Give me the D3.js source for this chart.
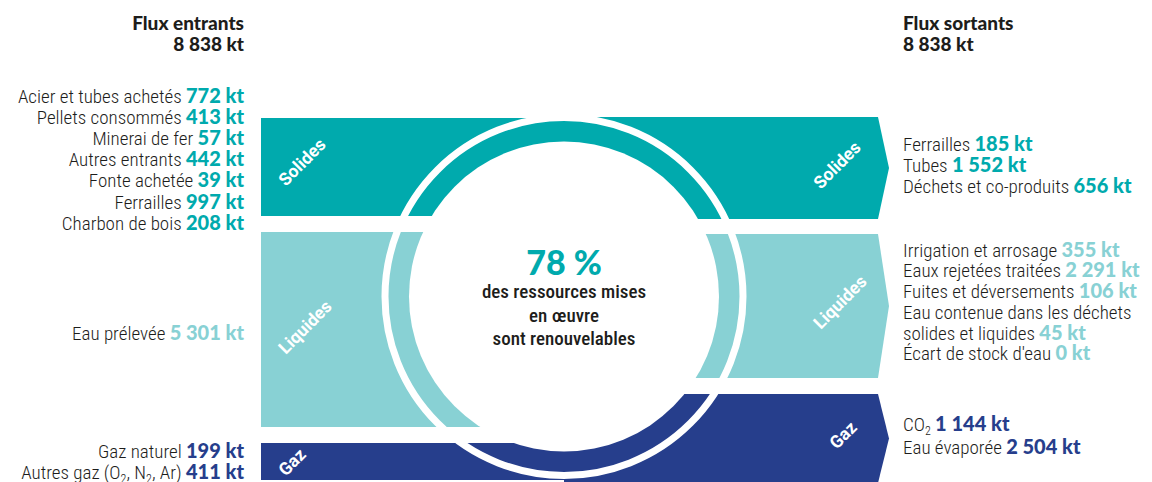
<!DOCTYPE html>
<html lang="fr">
<head>
<meta charset="utf-8">
<script src="https://cdn.jsdelivr.net/npm/d3@7"></script>
<style>
  html, body { margin: 0; padding: 0; background: #fff; }
  svg { display: block; }
  .lbl { font-family: "Liberation Sans Narrow", "Roboto", sans-serif; font-stretch: condensed; font-size: 19px; font-weight: 300; fill: #1d1d1b; }
  .val { font-family: "Lato", "Inter", sans-serif; font-weight: 900; }
  .hdr { font-family: "Lato", "Inter", sans-serif; font-weight: 900; font-size: 19px; fill: #1d1d1b; }
  .band-lbl { font-family: "Liberation Sans Narrow", "Roboto", sans-serif; font-weight: bold; font-size: 17.5px; fill: #fff; }
</style>
</head>
<body>
<svg id="chart" width="1152" height="482"></svg>
<script>
// ---------- DATA ----------
const categories = ["Solides", "Liquides", "Gaz"];
const categoryColors = ["#00aaad", "#88d1d4", "#263e8c"];

const headerTitles = ["Flux entrants", "Flux sortants"];
const headerTotals = [8838, 8838];

const inLabels = ["Acier et tubes achetés", "Pellets consommés", "Minerai de fer", "Autres entrants",
                  "Fonte achetée", "Ferrailles", "Charbon de bois", "Eau prélevée",
                  "Gaz naturel", "Autres gaz (O|2|, N|2|, Ar)"];
const inValues = [772, 413, 57, 442, 39, 997, 208, 5301, 199, 411];
const inCategory = [0, 0, 0, 0, 0, 0, 0, 1, 2, 2];

const outLabels = ["Ferrailles", "Tubes", "Déchets et co-produits",
                   "Irrigation et arrosage", "Eaux rejetées traitées", "Fuites et déversements",
                   "Eau contenue dans les déchets\nsolides et liquides", "Écart de stock d'eau",
                   "CO|2|", "Eau évaporée"];
const outValues = [185, 1552, 656, 355, 2291, 106, 45, 0, 1144, 2504];
const outCategory = [0, 0, 0, 1, 1, 1, 1, 1, 2, 2];

const centerValue = ["78 %"];
const centerText = ["des ressources mises", "en œuvre", "sont renouvelables"];

// ---------- LAYOUT ----------
const W = 1152, H = 482;
const cx = 564, cy = 296.5, rInner = 155, rLine = 179, lineW = 7;
const leftX = 261, rightX = 878, tipX = 889;
const leftBands  = [[118, 216], [232, 427], [443, 480]];
const rightBands = [[117, 219], [234, 378], [394, 483]];
const inRowY  = [96, 117.2, 138.4, 159.6, 180.8, 202, 223.2, 333.3, 451.7, 472.8];
const outRowY = [144, 165, 186, 250, 270.7, 291.7, 312.7, 353.3, 424.3, 447.3];
const leftTextX = 244, rightTextX = 903;
const leftBandLbl  = [[302, 162], [305, 327], [292, 462]];
const rightBandLbl = [[837, 165], [840, 302], [843, 435]];

const fr = d3.formatLocale({ decimal: ",", thousands: "\u00a0", grouping: [3], currency: ["", " €"] });
const fmt = v => fr.format(",d")(v) + "\u00a0kt";

const svg = d3.select("#chart");
const color = d3.scaleOrdinal().domain(d3.range(categories.length)).range(categoryColors);

// ---------- BANDS ----------
const gBands = svg.append("g");
leftBands.forEach((b, i) => {
  const p = d3.path();
  p.moveTo(leftX, b[0]); p.lineTo(cx, b[0]); p.lineTo(cx, b[1]); p.lineTo(leftX, b[1]); p.closePath();
  gBands.append("path").attr("d", p.toString()).attr("fill", color(i));
});
rightBands.forEach((b, i) => {
  const p = d3.path();
  const mid = (b[0] + b[1]) / 2;
  p.moveTo(cx, b[0]); p.lineTo(rightX, b[0]); p.lineTo(tipX, mid); p.lineTo(rightX, b[1]); p.lineTo(cx, b[1]); p.closePath();
  gBands.append("path").attr("d", p.toString()).attr("fill", color(i));
});

// inner white disk and white ring line
svg.append("circle").attr("cx", cx).attr("cy", cy).attr("r", rInner).attr("fill", "#fff");
svg.append("circle").attr("cx", cx).attr("cy", cy).attr("r", rLine)
   .attr("fill", "none").attr("stroke", "#fff").attr("stroke-width", lineW);

// band labels
[leftBandLbl, rightBandLbl].forEach(pos => {
  pos.forEach((p, i) => {
    svg.append("text").attr("class", "band-lbl")
      .attr("transform", `translate(${p[0]},${p[1]}) rotate(-45)`)
      .attr("text-anchor", "middle").attr("dy", "0.35em")
      .text(categories[i]);
  });
});

// ---------- CENTER TEXT ----------
svg.append("text").attr("x", cx).attr("y", 275).attr("text-anchor", "middle")
   .attr("class", "val").attr("font-size", 34).attr("fill", categoryColors[0]).text(centerValue[0]);
centerText.forEach((t, i) => {
  svg.append("text").attr("x", cx).attr("y", 298 + i * 23.5).attr("text-anchor", "middle")
     .attr("class", "lbl").attr("font-size", 20).style("font-weight", 500).text(t);
});

// ---------- HEADERS ----------
[[leftTextX, "end"], [rightTextX, "start"]].forEach((h, i) => {
  svg.append("text").attr("class", "hdr").attr("x", h[0]).attr("y", 30).attr("text-anchor", h[1]).text(headerTitles[i]);
  svg.append("text").attr("class", "hdr").attr("x", h[0]).attr("y", 51).attr("text-anchor", h[1]).text(fmt(headerTotals[i]));
});

// ---------- LABEL ROWS ----------
function addRich(text, str) {
  // "|" toggles subscript; returns pending vertical shift
  const parts = str.split("|");
  let pending = 0;
  parts.forEach((s, k) => {
    if (!s) return;
    const t = text.append("tspan").text(s);
    if (k % 2 === 1) {
      t.attr("font-size", 12).attr("dy", 4 + pending);
      pending = -4;
    } else if (pending) {
      t.attr("dy", pending);
      pending = 0;
    }
  });
  return pending;
}
function row(x, y, anchor, label, value, cat) {
  const lines = label.split("\n");
  lines.forEach((ln, li) => {
    const t = svg.append("text").attr("class", "lbl").attr("x", x)
      .attr("y", y + (li - (lines.length - 1)) * 20.5).attr("dy", "0.35em").attr("text-anchor", anchor);
    const pending = addRich(t, ln);
    if (li === lines.length - 1) {
      const sp = t.append("tspan").text(" ");
      if (pending) sp.attr("dy", pending);
      t.append("tspan").attr("class", "val").attr("font-size", 20).attr("fill", color(cat)).text(fmt(value));
    }
  });
}
inLabels.forEach((l, i) => row(leftTextX, inRowY[i], "end", l, inValues[i], inCategory[i]));
outLabels.forEach((l, i) => {
  const y = outLabels[i].includes("\n") ? outRowY[i] + 20.3 : outRowY[i];
  row(rightTextX, y, "start", l, outValues[i], outCategory[i]);
});
</script>
</body>
</html>
